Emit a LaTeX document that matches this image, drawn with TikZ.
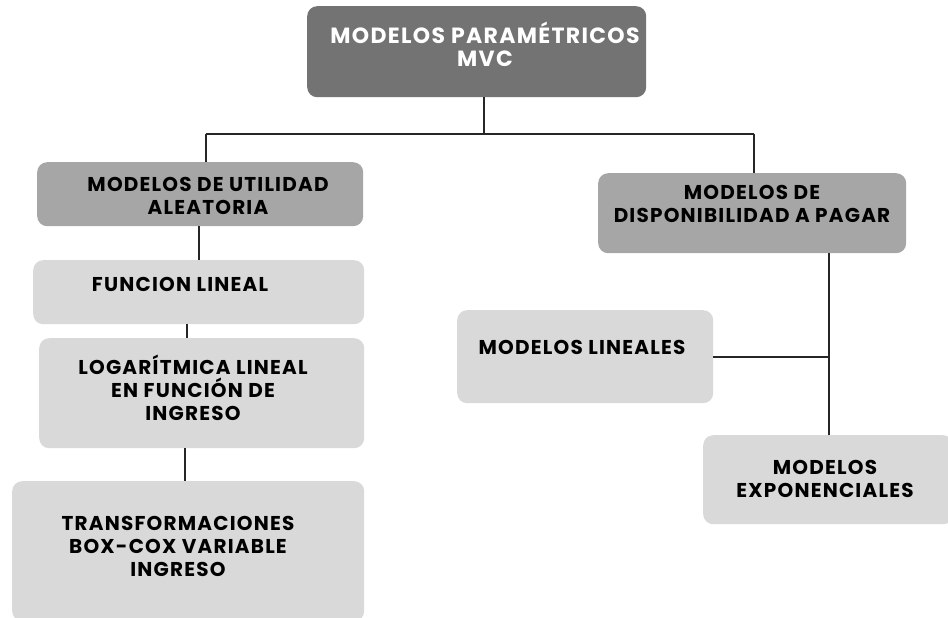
\documentclass[tikz,border=0pt]{standalone}
\usepackage{fontspec}
\setmainfont{Poppins}[LetterSpace=6]
\definecolor{dark}{HTML}{737373}
\definecolor{mid}{HTML}{A6A6A6}
\definecolor{light}{HTML}{D9D9D9}
\begin{document}
\begin{tikzpicture}[x=1pt,y=-1pt,
  box/.style={rounded corners=10pt, draw=none, anchor=north west, inner sep=0pt},
  txt/.style={font=\bfseries\fontsize{20}{23}\selectfont, align=center, inner sep=0pt, text=black},
  wtxt/.style={txt, text=white, font=\bfseries\fontsize{22}{23}\selectfont},
  conn/.style={draw=black!85, line width=1.1pt}]
\useasboundingbox (0,0) rectangle (948,618);
% boxes
\node[box, fill=dark, minimum width=339pt, minimum height=91pt] (top) at (307,6) {};
\node[box, fill=mid, minimum width=326pt, minimum height=64pt] (l1) at (37,162) {};
\node[box, fill=mid, minimum width=308pt, minimum height=80pt] (r1) at (598,173) {};
\node[box, fill=light, minimum width=331pt, minimum height=64pt] (fl) at (33,260) {};
\node[box, fill=light, minimum width=325pt, minimum height=110pt] (lg) at (39,338) {};
\node[box, fill=light, minimum width=352pt, minimum height=140pt] (tr) at (12,481) {};
\node[box, fill=light, minimum width=256pt, minimum height=93pt] (ml) at (457,310) {};
\node[box, fill=light, minimum width=250pt, minimum height=89pt] (me) at (703,435) {};
% texts
\node[wtxt] (ttop) at (485,44) {MODELOS PARAMÉTRICOS\\MVC};
\node[txt] (tl1) at (208,196) {MODELOS DE UTILIDAD\\ALEATORIA};
\node[txt] (tr1) at (752,204) {MODELOS DE\\DISPONIBILIDAD A PAGAR};
\node[txt] (tfl) at (180,284) {FUNCION LINEAL};
\node[txt] (tlg) at (193,388) {LOGARÍTMICA LINEAL\\EN FUNCIÓN DE\\INGRESO};
\node[txt] (ttr) at (178,546) {TRANSFORMACIONES\\BOX-COX VARIABLE\\INGRESO};
\node[txt] (tml) at (582,347) {MODELOS LINEALES};
\node[txt] (tme) at (825,479) {MODELOS\\EXPONENCIALES};
% connectors
\coordinate (hl) at (206,134);
\coordinate (hr) at (754,134);
\coordinate (j) at (829,357);
\draw[conn] (top.south -| 484,0) -- (484,134);
\draw[conn] (hl) -- (hr);
\draw[conn] (hl) -- (hl |- l1.north);
\draw[conn] (hr) -- (hr |- r1.north);
\draw[conn] (l1.south -| 199,0) -- (fl.north -| 199,0);
\draw[conn] (fl.south -| 187,0) -- (lg.north -| 187,0);
\draw[conn] (lg.south -| 185,0) -- (tr.north -| 185,0);
\draw[conn] (r1.south -| j) -- (me.north -| j);
\draw[conn] (ml.east |- j) -- (j);
\end{tikzpicture}
\end{document}
